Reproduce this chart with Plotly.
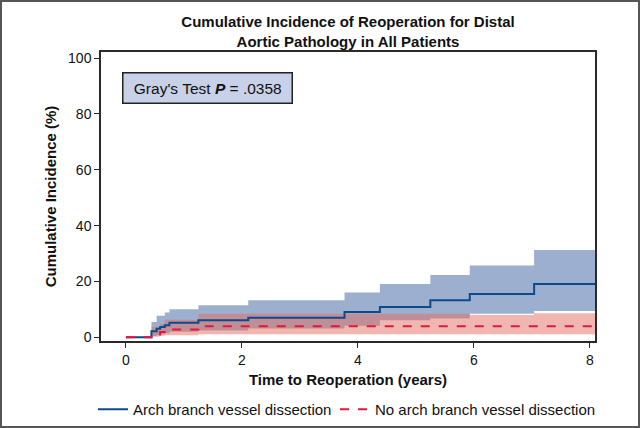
import plotly.graph_objects as go

# ---- data ----
blue_time = [0, 0.44, 0.53, 0.59, 0.67, 0.75, 1.25, 2.11, 3.77, 4.38, 5.25, 5.93, 7.04, 8.1]
blue_est = [0, 2.2, 3.1, 3.7, 4.3, 5.2, 6.1, 7.0, 9.1, 10.9, 13.3, 15.5, 19.1, 19.1]
blue_upper = [0, 5.5, 7.7, 7.7, 8.9, 10.1, 11.5, 13.3, 16.1, 19.1, 22.3, 25.7, 31.3, 31.3]
blue_lower = [0, 0.4, 0.8, 1.1, 1.5, 2.0, 2.5, 3.2, 4.2, 6.1, 6.8, 8.5, 9.4, 9.4]

red_time = [0, 0.44, 0.59, 0.67, 1.25, 5.93, 7.04, 8.1]
red_est = [0, 1.0, 1.9, 2.8, 4.0, 4.0, 4.0, 4.0]
red_upper = [0, 3.7, 4.8, 6.3, 8.5, 8.0, 8.6, 8.6]
red_lower = [0, 0.3, 0.6, 0.8, 1.1, 1.1, 1.1, 1.1]

x_ticks = [0, 2, 4, 6, 8]
y_ticks = [0, 20, 40, 60, 80, 100]

title_text = "Cumulative Incidence of Reoperation for Distal<br>Aortic Pathology in All Patients"
x_title = "Time to Reoperation (years)"
y_title = "Cumulative Incidence (%)"
series_names = ["Arch branch vessel dissection", "No arch branch vessel dissection"]
test_label = "&nbsp;Gray's Test <b><i>P</i></b> = .0358&nbsp;"

# ---- styles ----
FONT = "Liberation Sans, Arial, Helvetica, sans-serif"
BLUE_LINE = "#0e4a8a"
BLUE_FILL = "rgba(60,95,160,0.5)"
RED_LINE = "#e0183c"
RED_FILL = "rgba(228,110,95,0.5)"
AX = "#2a2a2a"

fig = go.Figure()

# blue CI band
fig.add_trace(go.Scatter(x=blue_time, y=blue_lower, mode="lines", line=dict(width=0, shape="hv"),
                         showlegend=False, hoverinfo="skip"))
fig.add_trace(go.Scatter(x=blue_time, y=blue_upper, mode="lines", line=dict(width=0, shape="hv"),
                         fill="tonexty", fillcolor=BLUE_FILL, showlegend=False, hoverinfo="skip"))
# red CI band
fig.add_trace(go.Scatter(x=red_time, y=red_lower, mode="lines", line=dict(width=0, shape="hv"),
                         showlegend=False, hoverinfo="skip"))
fig.add_trace(go.Scatter(x=red_time, y=red_upper, mode="lines", line=dict(width=0, shape="hv"),
                         fill="tonexty", fillcolor=RED_FILL, showlegend=False, hoverinfo="skip"))
# estimate lines
fig.add_trace(go.Scatter(x=blue_time, y=blue_est, mode="lines", name=series_names[0], legend="legend",
                         line=dict(color=BLUE_LINE, width=2, shape="hv")))
fig.add_trace(go.Scatter(x=red_time, y=red_est, mode="lines", name=series_names[1], legend="legend2",
                         line=dict(color=RED_LINE, width=2, shape="hv", dash="dash")))

W, H = 640, 428
ML, MR, MT, MB = 101, 45, 52, 87
pw, ph = W - ML - MR, H - MT - MB

# outer border of the whole picture (paper coords extended beyond plot area)
fig.add_shape(type="rect", xref="paper", yref="paper",
              x0=(1 - ML) / pw, x1=(W - 1 - ML) / pw,
              y0=-(MB - 1) / ph, y1=1 + (MT - 1) / ph,
              line=dict(color="#555555", width=2), fillcolor="rgba(0,0,0,0)", layer="above")

fig.add_annotation(xref="paper", yref="paper", x=(122 - ML) / pw, y=1 - (88 - MT) / ph,
                   xanchor="left", yanchor="middle",
                   text=test_label, showarrow=False,
                   font=dict(family=FONT, size=15.5, color="#111111"),
                   bgcolor="#c9d1e8", bordercolor="#222222", borderwidth=1.5, borderpad=6)

legend_common = dict(orientation="h", xref="container", yref="container", xanchor="left",
                     yanchor="top", y=1 - 393 / H, bgcolor="rgba(0,0,0,0)",
                     font=dict(family=FONT, size=15, color="#111111"))

fig.update_layout(
    width=W, height=H,
    margin=dict(l=ML, r=MR, t=MT, b=MB, autoexpand=False),
    paper_bgcolor="white", plot_bgcolor="white",
    font=dict(family=FONT, size=14, color="#111111"),
    title=dict(text="<b>" + title_text + "</b>", x=(ML + pw / 2) / W, xanchor="center",
               yref="container", y=1 - 27 / H, yanchor="top",
               font=dict(family=FONT, size=15, color="#111111")),
    legend=dict(x=93 / W, **legend_common),
    legend2=dict(x=335 / W, **legend_common),
    xaxis=dict(range=[-0.43, 8.09], tickvals=x_ticks, ticks="outside", ticklen=5, tickwidth=1.2,
               tickcolor=AX, showline=True, linecolor=AX, linewidth=1.5, mirror=True,
               showgrid=False, zeroline=False,
               title=dict(text="<b>" + x_title + "</b>", standoff=8, font=dict(size=15)),
               tickfont=dict(size=14)),
    yaxis=dict(range=[-1.3, 102.2], tickvals=y_ticks, ticks="outside", ticklen=5, tickwidth=1.2,
               tickcolor=AX, showline=True, linecolor=AX, linewidth=1.5, mirror=True,
               showgrid=False, zeroline=False,
               title=dict(text="<b>" + y_title + "</b>", standoff=8, font=dict(size=15)),
               tickfont=dict(size=14)),
)

fig.write_html("out.html", config={"displayModeBar": False},
               post_script="document.body.style.margin='0';")
